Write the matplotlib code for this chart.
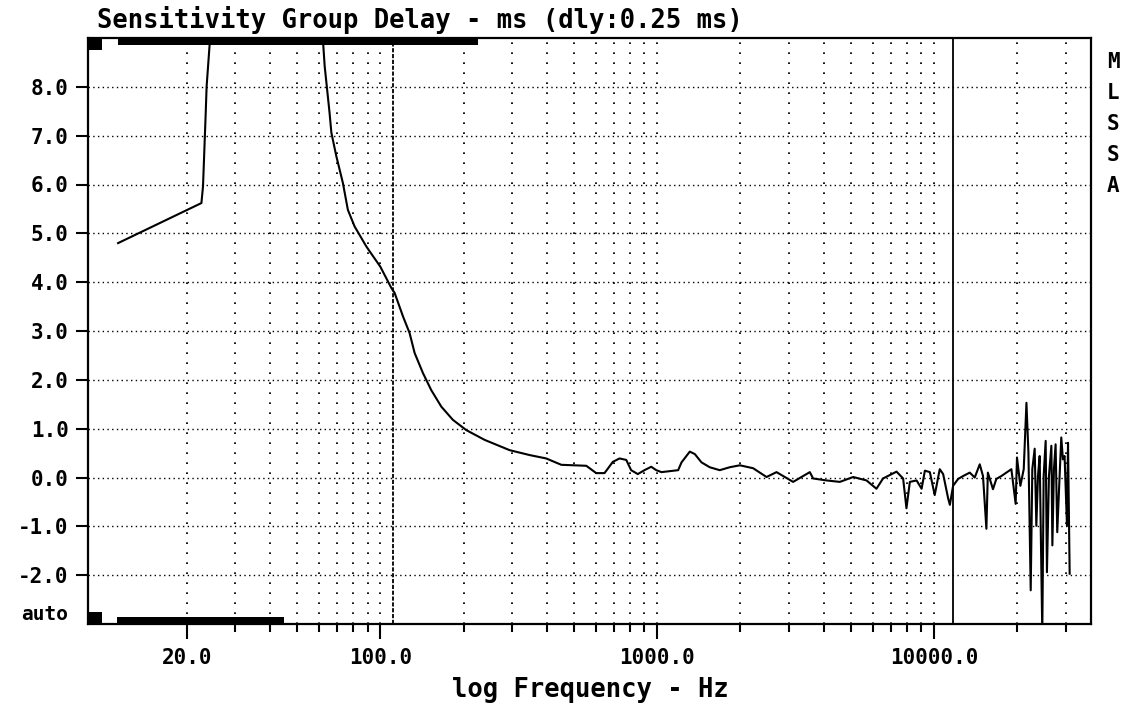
import numpy as np
import matplotlib.pyplot as plt
from matplotlib.ticker import NullFormatter

# valores (Hz, ms); nan = tramo fuera de escala
freq_hz = [11.3, 22.6, 22.9, 23.4, 23.6, 24.2, 24.4, np.nan, 61.8, 62.1, 63.0, 65.6, 66.6,
           69.4, 73.3, 76.4, 80.8, 89.1, 91.6, 100, 109.7, 112.7, 120.8, 127.6, 133.1,
           142.6, 152.8, 166.2, 183, 204.6, 238.3, 293.2, 346, 397.6, 450.7, 554.8,
           602.6, 645.6, 691.9, 731.6, 773.5, 805.6, 851.5, 900, 952, 993, 1037, 1191,
           1225, 1312, 1368, 1446, 1549, 1683, 1829, 1989, 2222, 2484, 2699, 3099,
           3560, 3660, 4090, 4570, 5105, 5705, 6196, 6546, 7322, 7735, 7952, 8180,
           8650, 9020, 9270, 9660, 10060, 10490, 10790, 11250, 11410, 11720, 12220,
           12740, 13460, 14030, 14630, 15030, 15460, 15650, 16330, 16790, 17510, 18250,
           19030, 19720, 19940, 20510, 21090, 21570, 21930, 22350, 22650, 23100, 23420,
           23740, 24080, 24610, 24890, 25310, 25580, 26010, 26540, 26760, 27110, 27490,
           27870, 28420, 28820, 29210, 29620, 30220, 30480, 30900]
delay_ms = [4.80, 5.62, 5.96, 7.40, 8.01, 8.87, 9.3, np.nan, 9.3, 8.95, 8.42, 7.47, 7.06,
            6.58, 6.03, 5.48, 5.14, 4.73, 4.63, 4.32, 3.88, 3.78, 3.30, 2.96, 2.55,
            2.14, 1.79, 1.45, 1.18, 0.97, 0.77, 0.56, 0.46, 0.39, 0.26, 0.24,
            0.09, 0.09, 0.32, 0.39, 0.36, 0.15, 0.07, 0.15, 0.22, 0.15, 0.11, 0.15,
            0.31, 0.53, 0.48, 0.31, 0.21, 0.15, 0.21, 0.25, 0.19, 0.01, 0.11, -0.09,
            0.11, -0.02, -0.06, -0.09, 0.01, -0.06, -0.23, -0.02, 0.12, -0.02, -0.63, -0.09,
            -0.06, -0.23, 0.14, 0.11, -0.36, 0.17, 0.07, -0.43, -0.56, -0.17, -0.03,
            0.03, 0.10, 0.0, 0.27, 0.03, -1.05, 0.10, -0.24, -0.03, 0.03, 0.10,
            0.17, -0.54, 0.41, -0.17, 0.17, 1.53, 0.51, -2.31, 0.17, 0.59, -0.99,
            0.03, 0.44, -3.2, 0.03, 0.75, -1.94, 0.03, 0.65, -1.39, 0.17, 0.68,
            -1.12, 0.03, 0.82, 0.37, 0.44, -0.99, 0.71, -1.97]

y_ticks = [-2, -1, 0, 1, 2, 3, 4, 5, 6, 7, 8]
x_major = [20, 100, 1000, 10000]
x_major_labels = ['20.0', '100.0', '1000.0', '10000.0']
x_minor = [30, 40, 50, 60, 70, 80, 90, 200, 300, 400, 500, 600, 700, 800, 900,
           2000, 3000, 4000, 5000, 6000, 7000, 8000, 9000, 20000, 30000]
marker_dashed = 111
marker_solid = 11670
top_band = (11.3, 225)
bottom_band = (11.2, 45)
corner_band = (8.8, 9.9)

plt.rcParams['font.family'] = 'DejaVu Sans Mono'
plt.rcParams['font.weight'] = 'bold'
plt.rcParams['lines.scale_dashes'] = False

fig = plt.figure(figsize=(11.31, 7.12), dpi=100)
ax = fig.add_axes([88 / 1131, 1 - 624 / 712, 1003 / 1131, 586 / 712])
ax.set_xscale('log')
ax.set_xlim(8.8, 36900)
ax.set_ylim(-3, 9)

# rejilla punteada
for y in y_ticks:
    ax.axhline(y, color='black', lw=1.0, dashes=(1.0, 2.4), zorder=1)
for x in x_major + x_minor:
    ax.axvline(x, color='black', lw=1.3, dashes=(1.2, 6.0), zorder=1)

# marcadores verticales
ax.axvline(marker_dashed, color='black', lw=1.3, dashes=(3.0, 1.2), zorder=2)
ax.axvline(marker_solid, color='black', lw=1.3, zorder=2)

# barras gruesas de ventana
ax.axvspan(*top_band, ymin=0.988, ymax=1.0, color='black', lw=0, zorder=3)
ax.axvspan(*bottom_band, ymin=0.0, ymax=0.012, color='black', lw=0, zorder=3)
ax.axvspan(*corner_band, ymin=0.98, ymax=1.0, color='black', lw=0, zorder=3)
ax.axvspan(*corner_band, ymin=0.0, ymax=0.02, color='black', lw=0, zorder=3)

ax.plot(freq_hz, delay_ms, color='black', lw=1.5, zorder=4)

for s in ax.spines.values():
    s.set_linewidth(1.6)

ax.set_xticks(x_major, x_major_labels)
ax.set_xticks(x_minor, minor=True)
ax.xaxis.set_minor_formatter(NullFormatter())
ax.tick_params(axis='x', which='major', direction='out', length=11, width=1.5,
               labelsize=15, pad=6)
ax.tick_params(axis='x', which='minor', direction='out', length=6, width=1.5)
ax.set_yticks(y_ticks, [f'{v:.1f}' for v in y_ticks])
ax.tick_params(axis='y', direction='out', length=9, width=1.5, labelsize=15, pad=5)
ax.text(-0.02, 0, 'auto', transform=ax.transAxes, ha='right', va='bottom', fontsize=14)

fig.text(97 / 1131, 1 - 20 / 712, 'Sensitivity Group Delay - ms (dly:0.25 ms)',
         ha='left', va='center', fontsize=18.4)
fig.text(590 / 1131, 1 - 690 / 712, 'log Frequency - Hz', ha='center', va='center',
         fontsize=18.4)

for i, letra in enumerate('MLSSA'):
    fig.text(1113 / 1131, 1 - (62 + i * 31) / 712, letra, ha='center', va='center',
             fontsize=15)

fig.savefig('out.png', dpi=100)
